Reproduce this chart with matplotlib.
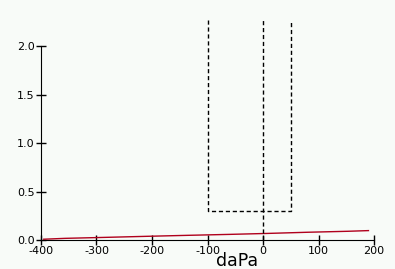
import matplotlib
matplotlib.use("Agg")
import matplotlib.pyplot as plt

# red trace
pressure = [-395, -357, -285, -209, -137, -60, 9, 81, 153, 190]
admittance = [0.008, 0.017, 0.027, 0.038, 0.048, 0.058, 0.068, 0.080, 0.090, 0.097]

# dashed box
box_left = -100
box_right = 50
box_bottom = 0.3
box_top = 2.27
zero_line = 0

xticks = [-400, -300, -200, -100, 0, 100, 200]
yticks = [0.0, 0.5, 1.0, 1.5, 2.0]

bg = "#f8fbf8"
plt.rcParams["font.family"] = ["Liberation Sans Narrow", "DejaVu Sans"]

fig = plt.figure(figsize=(3.95, 2.69), dpi=100, facecolor=bg)
ax = fig.add_axes([41 / 395, 29 / 269, 333 / 395, 220 / 269], facecolor=bg)

ax.plot(pressure, admittance, color="#b0001c", lw=1.0)

ax.plot([box_left, box_left, box_right, box_right],
        [box_top, box_bottom, box_bottom, box_top],
        color="black", ls=(0, (3, 2)), lw=1.0, clip_on=False)
ax.plot([zero_line, zero_line], [0, box_top],
        color="black", ls=(0, (3, 2)), lw=1.0, clip_on=False)

ax.set_xlim(-400, 200)
ax.set_ylim(0, box_top)
ax.set_xticks(xticks)
ax.set_xticklabels([str(t) for t in xticks])
ax.set_yticks(yticks)
ax.set_yticklabels(["%.1f" % t for t in yticks])

ax.spines["top"].set_visible(False)
ax.spines["right"].set_visible(False)
ax.spines["left"].set_bounds(0, 2.0)
ax.tick_params(direction="inout", length=7, width=1, labelsize=8, pad=1)

fig.text(237 / 395, 7.5 / 269, "daPa", ha="center", va="center",
         fontsize=12.5, family="DejaVu Sans")

fig.savefig("out.png", dpi=100, facecolor=bg)
